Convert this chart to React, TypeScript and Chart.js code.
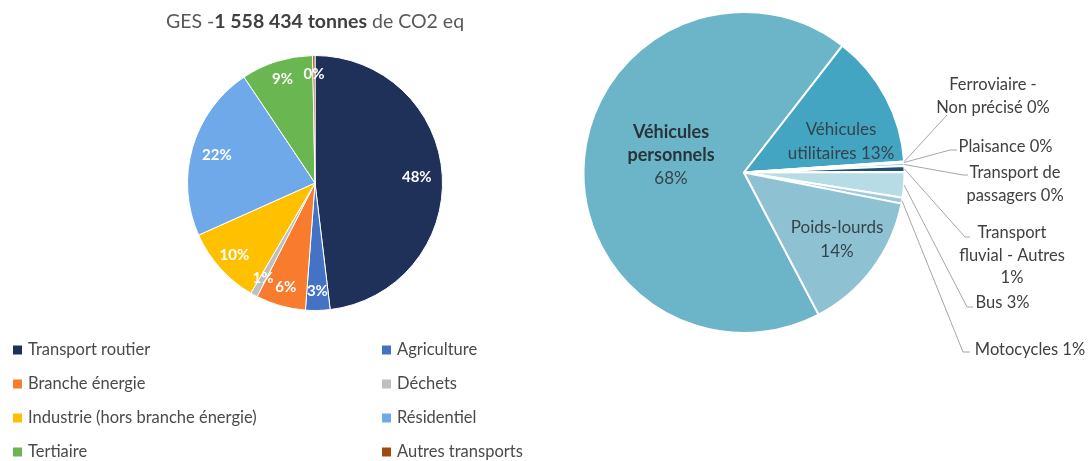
import React, { useEffect, useRef } from 'react';
import { Chart, registerables } from 'chart.js';

Chart.register(...registerables);

const FONT = 'Lato, "Open Sans", sans-serif';

// ---------- Left chart data ----------
const TITLE_PREFIX = 'GES -';
const TITLE_BOLD = '1 558 434 tonnes';
const TITLE_SUFFIX = ' de CO2 eq';

const SECTORS = [
  'Transport routier',
  'Agriculture',
  'Branche énergie',
  'Déchets',
  'Industrie (hors branche énergie)',
  'Résidentiel',
  'Tertiaire',
  'Autres transports',
];
const SECTOR_SHARES = [48.1, 3.1, 6.3, 0.9, 9.9, 22.3, 9.1, 0.3];
const SECTOR_COLORS = ['#1F3158', '#4472C4', '#F97B2D', '#BFBFBF', '#FFC000', '#70A9EA', '#6AB650', '#A04A10'];

// ---------- Right chart data ----------
const MODES = [
  'Véhicules personnels',
  'Véhicules utilitaires',
  'Ferroviaire - Non précisé',
  'Plaisance',
  'Transport de passagers',
  'Transport fluvial - Autres',
  'Bus',
  'Motocycles',
  'Poids-lourds',
];
const MODE_SHARES = [68.2, 13.4, 0.05, 0.1, 0.3, 0.6, 2.55, 0.6, 14.2];
const MODE_COLORS = ['#6CB5C8', '#44A5C2', '#A5D3E0', '#C5E3EC', '#7FBFD1', '#1F5373', '#B7DCE6', '#9DCBD9', '#8EC2D3'];

// ---------- Layout (not data) ----------
const INNER_LAYOUT: Record<number, { dx: number; dy: number; maxWidth: number; bold: boolean; pctOwnLine: boolean; size: number }> = {
  0: { dx: -73, dy: -17, maxWidth: 100, bold: true, pctOwnLine: true, size: 18 },
  1: { dx: 97, dy: -31, maxWidth: 120, bold: false, pctOwnLine: false, size: 17 },
  8: { dx: 93, dy: 67, maxWidth: 105, bold: false, pctOwnLine: false, size: 17 },
};
const OUTER_LAYOUT: Record<number, { tx: number; ty: number; ex1: number; ex2: number; ey: number; maxWidth: number }> = {
  2: { tx: 249, ty: -87.5, ex1: 203, ex2: 203, ey: -57.5, maxWidth: 120 },
  3: { tx: 261.5, ty: -25.5, ex1: 206, ex2: 213, ey: -22.5, maxWidth: 200 },
  4: { tx: 271, ty: 0.5, ex1: 219, ex2: 224, ey: 2.5, maxWidth: 107 },
  5: { tx: 268, ty: 60.5, ex1: 221, ex2: 226, ey: 64.5, maxWidth: 114 },
  6: { tx: 258.5, ty: 130.5, ex1: 223, ex2: 229, ey: 134.5, maxWidth: 200 },
  7: { tx: 286, ty: 177.5, ex1: 219, ex2: 226, ey: 179.5, maxWidth: 200 },
};

function wrap(ctx: CanvasRenderingContext2D, text: string, maxWidth: number): string[] {
  const words = text.split(' ');
  const lines: string[] = [];
  let cur = '';
  for (const w of words) {
    const test = cur ? cur + ' ' + w : w;
    if (cur && ctx.measureText(test).width > maxWidth) {
      lines.push(cur);
      cur = w;
    } else {
      cur = test;
    }
  }
  if (cur) lines.push(cur);
  return lines;
}

function pctOf(values: number[], i: number) {
  const total = values.reduce((a, b) => a + b, 0);
  return Math.round((values[i] / total) * 100);
}

const leftPlugin = {
  id: 'leftDecor',
  afterDatasetsDraw(chart: any) {
    const ctx: CanvasRenderingContext2D = chart.ctx;
    const meta = chart.getDatasetMeta(0);
    const data = chart.data.datasets[0].data as number[];
    ctx.save();
    ctx.font = `bold 15px ${FONT}`;
    ctx.fillStyle = '#ffffff';
    ctx.textAlign = 'center';
    ctx.textBaseline = 'middle';
    meta.data.forEach((arc: any, i: number) => {
      const p = arc.getProps(['x', 'y', 'startAngle', 'endAngle', 'outerRadius'], true);
      const mid = (p.startAngle + p.endAngle) / 2;
      const f = data[i] < 10 ? 0.85 : 0.8;
      ctx.fillText(`${pctOf(data, i)}%`, p.x + Math.cos(mid) * p.outerRadius * f, p.y + Math.sin(mid) * p.outerRadius * f);
    });
    ctx.restore();
  },
  afterDraw(chart: any) {
    const ctx: CanvasRenderingContext2D = chart.ctx;
    const ca = chart.chartArea;
    const cx = (ca.left + ca.right) / 2;
    ctx.save();
    ctx.textBaseline = 'middle';
    ctx.textAlign = 'left';
    const fN = `19.5px ${FONT}`;
    const fB = `bold 19.5px ${FONT}`;
    ctx.font = fN;
    const w1 = ctx.measureText(TITLE_PREFIX).width;
    const w3 = ctx.measureText(TITLE_SUFFIX).width;
    ctx.font = fB;
    const w2 = ctx.measureText(TITLE_BOLD).width;
    let x = cx - (w1 + w2 + w3) / 2;
    const ty = 22;
    ctx.font = fN;
    ctx.fillStyle = '#595959';
    ctx.fillText(TITLE_PREFIX, x, ty);
    x += w1;
    ctx.font = fB;
    ctx.fillStyle = '#404040';
    ctx.fillText(TITLE_BOLD, x, ty);
    x += w2;
    ctx.font = fN;
    ctx.fillStyle = '#595959';
    ctx.fillText(TITLE_SUFFIX, x, ty);

    const labels = chart.data.labels as string[];
    const colors = chart.data.datasets[0].backgroundColor as string[];
    const colX = [13, 382];
    const rowY0 = 350;
    const rowStep = 34;
    ctx.font = `16.5px ${FONT}`;
    labels.forEach((lab, i) => {
      const col = i % 2;
      const row = Math.floor(i / 2);
      const lx = colX[col];
      const ly = rowY0 + row * rowStep;
      ctx.fillStyle = colors[i];
      ctx.fillRect(lx, ly - 4.5, 9, 9);
      ctx.fillStyle = '#4a4a4a';
      ctx.fillText(lab, lx + 15, ly);
    });
    ctx.restore();
  },
};

const rightPlugin = {
  id: 'rightDecor',
  afterDatasetsDraw(chart: any) {
    const ctx: CanvasRenderingContext2D = chart.ctx;
    const meta = chart.getDatasetMeta(0);
    const data = chart.data.datasets[0].data as number[];
    const labels = chart.data.labels as string[];
    ctx.save();
    ctx.textAlign = 'center';
    ctx.textBaseline = 'middle';
    const lh = 23.5;
    meta.data.forEach((arc: any, i: number) => {
      const p = arc.getProps(['x', 'y', 'startAngle', 'endAngle', 'outerRadius'], true);
      const pct = pctOf(data, i);
      const inner = INNER_LAYOUT[i];
      if (inner) {
        let lines: { t: string; bold: boolean }[] = [];
        ctx.font = `${inner.bold ? 'bold ' : ''}${inner.size}px ${FONT}`;
        if (inner.pctOwnLine) {
          lines = wrap(ctx, labels[i], inner.maxWidth).map((t) => ({ t, bold: inner.bold }));
          lines.push({ t: `${pct}%`, bold: false });
        } else {
          lines = wrap(ctx, `${labels[i]} ${pct}%`, inner.maxWidth).map((t) => ({ t, bold: inner.bold }));
        }
        const cy = p.y + inner.dy - ((lines.length - 1) * lh) / 2;
        lines.forEach((ln, k) => {
          ctx.font = `${ln.bold ? 'bold ' : ''}${ln.bold ? inner.size : 17}px ${FONT}`;
          ctx.fillStyle = ln.bold ? '#27343B' : '#34444C';
          ctx.fillText(ln.t, p.x + inner.dx, cy + k * lh);
        });
      }
      const outer = OUTER_LAYOUT[i];
      if (outer) {
        const mid = (p.startAngle + p.endAngle) / 2;
        const sx = p.x + Math.cos(mid) * p.outerRadius;
        const sy = p.y + Math.sin(mid) * p.outerRadius;
        ctx.strokeStyle = '#A6A6A6';
        ctx.lineWidth = 1;
        ctx.beginPath();
        ctx.moveTo(sx, sy);
        ctx.lineTo(p.x + outer.ex1, p.y + outer.ey);
        ctx.lineTo(p.x + outer.ex2, p.y + outer.ey);
        ctx.stroke();
        ctx.font = `16.5px ${FONT}`;
        ctx.fillStyle = '#404040';
        const lines = wrap(ctx, `${labels[i]} ${pct}%`, outer.maxWidth);
        lines.forEach((t, k) => {
          ctx.fillText(t, p.x + outer.tx, p.y + outer.ty + k * 22.5);
        });
      }
    });
    ctx.restore();
  },
};

function LeftChart() {
  const ref = useRef<HTMLCanvasElement>(null);
  useEffect(() => {
    const chart = new Chart(ref.current!, {
      type: 'pie',
      data: {
        labels: SECTORS,
        datasets: [
          {
            data: SECTOR_SHARES,
            backgroundColor: SECTOR_COLORS,
            borderColor: '#ffffff',
            borderWidth: 1,
          },
        ],
      },
      options: {
        responsive: false,
        animation: false,
        devicePixelRatio: 1,
        layout: { padding: { left: 187, right: 117, top: 55, bottom: 150 } },
        plugins: { legend: { display: false }, tooltip: { enabled: false } },
      },
      plugins: [leftPlugin],
    } as any);
    return () => chart.destroy();
  }, []);
  return <canvas ref={ref} width={560} height={461} style={{ position: 'absolute', left: 0, top: 0 }} />;
}

function RightChart() {
  const ref = useRef<HTMLCanvasElement>(null);
  useEffect(() => {
    const chart = new Chart(ref.current!, {
      type: 'pie',
      data: {
        labels: MODES,
        datasets: [
          {
            data: MODE_SHARES,
            backgroundColor: MODE_COLORS,
            borderColor: '#ffffff',
            borderWidth: 2,
          },
        ],
      },
      options: {
        responsive: false,
        animation: false,
        devicePixelRatio: 1,
        rotation: 152.3,
        layout: { padding: { left: 22.5, right: 185.5, top: 11, bottom: 127 } },
        plugins: { legend: { display: false }, tooltip: { enabled: false } },
      },
      plugins: [rightPlugin],
    } as any);
    return () => chart.destroy();
  }, []);
  return <canvas ref={ref} width={531} height={461} style={{ position: 'absolute', left: 560, top: 0 }} />;
}

export default function App() {
  return (
    <div style={{ position: 'absolute', left: 0, top: 0, width: 1091, height: 461, background: '#ffffff' }}>
      <LeftChart />
      <RightChart />
    </div>
  );
}
